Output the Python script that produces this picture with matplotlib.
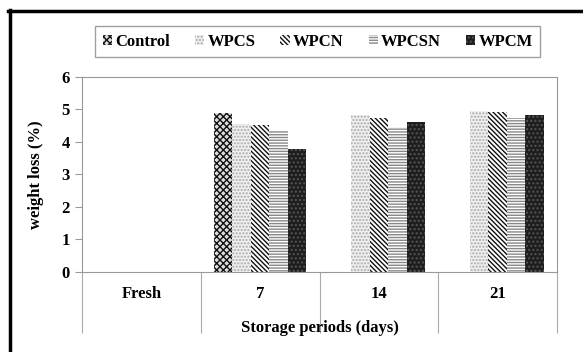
import matplotlib.pyplot as plt
from matplotlib.lines import Line2D
import numpy as np

plt.rcParams['font.family'] = ['Liberation Serif', 'DejaVu Serif']
plt.rcParams['font.weight'] = 'bold'
plt.rcParams['hatch.linewidth'] = 1.0

periods = ['Fresh', '7', '14', '21']
treatments = ['Control', 'WPCS', 'WPCN', 'WPCSN', 'WPCM']
control = [0, 4.89, 0, 0]
wpcs = [0, 4.55, 4.83, 4.95]
wpcn = [0, 4.52, 4.74, 4.92]
wpcsn = [0, 4.34, 4.46, 4.74]
wpcm = [0, 3.78, 4.60, 4.83]
series = [control, wpcs, wpcn, wpcsn, wpcm]

# (facecolor, hatch colour, hatch)
styles = [
    ('#dddddd', '#111111', 'xxxxx'),
    ('#f0f0f0', '#a8a8a8', '.....'),
    ('white', '#111111', '\\\\\\\\\\\\\\'),
    ('white', '#888888', '------'),
    ('#1e1e1e', '#555555', '....'),
]

fig = plt.figure(figsize=(5.83, 3.52), dpi=100)
ax = fig.add_axes([0.1407, 0.2273, 0.8147, 0.5540])

x = np.arange(len(periods))
n = len(treatments)
w = 0.78 / n
for i, (vals, (fc, hc, h)) in enumerate(zip(series, styles)):
    ax.bar(x - 0.39 + w * (i + 0.5), vals, width=w, facecolor=fc,
           edgecolor=hc, hatch=h, linewidth=0, label=treatments[i])

ax.set_xlim(-0.5, len(periods) - 0.5)
ax.set_ylim(0, 6)
ax.set_yticks(range(0, 7))
ax.tick_params(axis='y', direction='out', length=5, color='#999999',
               labelsize=12, pad=4)

# category separators extending below the axis, labels in between
ax.set_xticks(np.arange(-0.5, len(periods)))
ax.set_xticklabels([])
ax.tick_params(axis='x', which='major', direction='out', length=44,
               color='#aaaaaa')
ax.set_xticks(x, minor=True)
ax.set_xticklabels(periods, minor=True)
ax.tick_params(axis='x', which='minor', length=0, labelsize=12, pad=10)

for s in ax.spines.values():
    s.set_color('#999999')

ax.set_ylabel('weight loss (%)', fontsize=12, fontweight='bold')
ax.yaxis.set_label_coords(-0.08, 0.5)
ax.set_xlabel('Storage periods (days)', fontsize=12, fontweight='bold')
ax.xaxis.set_label_coords(0.5, -0.245)

leg = fig.legend(loc='center', bbox_to_anchor=(0.545, 0.882), ncol=5,
                 fontsize=12, frameon=True, fancybox=False,
                 edgecolor='#888888', handlelength=0.55, handleheight=0.55,
                 handletextpad=0.2, columnspacing=1.5,
                 borderpad=0.45)
leg.get_frame().set_linewidth(1.0)

# outer black frame (left and top edges visible)
fig.add_artist(Line2D([9.5 / 583, 9.5 / 583], [0, 1 - 10 / 352],
                      transform=fig.transFigure, color='black', lw=2.5))
fig.add_artist(Line2D([8 / 583, 1], [1 - 11 / 352, 1 - 11 / 352],
                      transform=fig.transFigure, color='black', lw=2.5))

fig.savefig('out.png', dpi=100)
